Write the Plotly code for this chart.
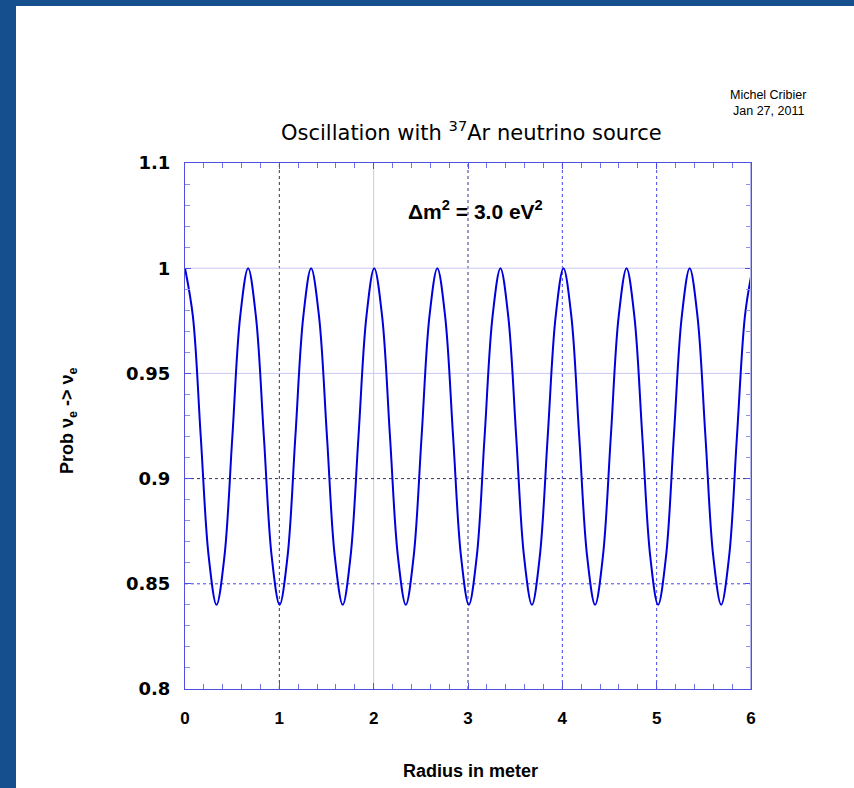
import plotly.graph_objects as go

# Radius (m) and survival probability
radius = [0.000, 0.084, 0.167, 0.251, 0.334, 0.418, 0.502, 0.585,
          0.669, 0.752, 0.836, 0.919, 1.003, 1.087, 1.170, 1.254,
          1.337, 1.421, 1.505, 1.588, 1.672, 1.755, 1.839, 1.923,
          2.006, 2.090, 2.173, 2.257, 2.341, 2.424, 2.508, 2.591,
          2.675, 2.758, 2.842, 2.926, 3.009, 3.093, 3.176, 3.260,
          3.344, 3.427, 3.511, 3.594, 3.678, 3.761, 3.845, 3.929,
          4.012, 4.096, 4.179, 4.263, 4.347, 4.430, 4.514, 4.597,
          4.681, 4.764, 4.848, 4.932, 5.015, 5.099, 5.182, 5.266,
          5.350, 5.433, 5.517, 5.600, 5.684, 5.768, 5.851, 5.935,
          6.000]
prob = [1.000, 0.977, 0.920, 0.863, 0.840, 0.863, 0.920, 0.977,
        1.000, 0.977, 0.920, 0.863, 0.840, 0.863, 0.920, 0.977,
        1.000, 0.977, 0.920, 0.863, 0.840, 0.863, 0.920, 0.977,
        1.000, 0.977, 0.920, 0.863, 0.840, 0.863, 0.920, 0.977,
        1.000, 0.977, 0.920, 0.863, 0.840, 0.863, 0.920, 0.977,
        1.000, 0.977, 0.920, 0.863, 0.840, 0.863, 0.920, 0.977,
        1.000, 0.977, 0.920, 0.863, 0.840, 0.863, 0.920, 0.977,
        1.000, 0.977, 0.920, 0.863, 0.840, 0.863, 0.920, 0.977,
        1.000, 0.977, 0.920, 0.863, 0.840, 0.863, 0.920, 0.977,
        0.996]

x_ticks = [0, 1, 2, 3, 4, 5, 6]
y_ticks = [0.8, 0.85, 0.9, 0.95, 1.0, 1.05]
y_tick_text = ["0.8", "0.85", "0.9", "0.95", "1", "1.1"]

# grid lines (position, style)
x_grid = [(1, "#333366", "dot"), (2, "#c8c8f4", "solid"), (3, "#333388", "dot"),
          (4, "#4444ee", "dot"), (5, "#4444ee", "dot")]
y_grid = [(1.0, "#c8c8f4", "solid"), (0.95, "#c8c8f4", "solid"),
          (0.9, "#333366", "dot"), (0.85, "#4444ee", "dot")]

fig = go.Figure()
fig.add_trace(go.Scatter(x=radius, y=prob, mode="lines",
                         line=dict(color="#0000dd", width=2, shape="spline"),
                         showlegend=False, hoverinfo="skip"))

shapes = []
# page background: white sheet on blue
shapes.append(dict(type="rect", xref="paper", yref="paper",
                   x0=(16 - 185) / 566, x1=(860 - 185) / 566,
                   y0=(689 - 800) / 526, y1=(689 - 6) / 526,
                   fillcolor="white", line=dict(width=0), layer="below"))
for xv, col, dash in x_grid:
    shapes.append(dict(type="line", xref="x", yref="y", x0=xv, x1=xv, y0=0.8, y1=1.05,
                       line=dict(color=col, width=1, dash=dash), layer="below"))
for yv, col, dash in y_grid:
    shapes.append(dict(type="line", xref="x", yref="y", x0=0, x1=6, y0=yv, y1=yv,
                       line=dict(color=col, width=1, dash=dash), layer="below"))
# light right edge
shapes.append(dict(type="line", xref="x", yref="y", x0=6, x1=6, y0=0.8, y1=1.05,
                   line=dict(color="#b4b4f0", width=2), layer="above"))

axis_col = "#5050e0"
fig.update_layout(
    width=854, height=788,
    margin=dict(l=185, r=103, t=163, b=99),
    paper_bgcolor="#164f8e",
    plot_bgcolor="white",
    shapes=shapes,
    xaxis=dict(range=[0, 6], tickvals=x_ticks, showgrid=False, zeroline=False,
               showline=True, linecolor=axis_col, linewidth=1, mirror="ticks",
               ticks="inside", ticklen=6, tickcolor=axis_col,
               minor=dict(dtick=0.2, ticks="inside", ticklen=5, tickcolor="#7070e8",
                          showgrid=False),
               ticklabelstandoff=14,
               tickfont=dict(family="Liberation Sans", size=17, color="black", weight="bold")),
    yaxis=dict(range=[0.8, 1.05], tickvals=y_ticks, ticktext=y_tick_text,
               showgrid=False, zeroline=False,
               showline=True, linecolor=axis_col, linewidth=1, mirror="ticks",
               ticks="inside", ticklen=6, tickcolor=axis_col,
               minor=dict(dtick=0.01, ticks="inside", ticklen=5, tickcolor="#9090ec",
                          showgrid=False),
               ticklabelstandoff=10,
               tickfont=dict(family="DejaVu Sans", size=18, color="black", weight="bold")),
    annotations=[
        dict(text="Oscillation with <sup>37</sup>Ar neutrino source",
             xref="paper", yref="paper", x=(471 - 185) / 566, y=(689 - 131) / 526,
             xanchor="center", yanchor="middle", showarrow=False,
             font=dict(family="DejaVu Sans", size=21, color="black")),
        dict(text="\u0394m<sup>2</sup> = 3.0 eV<sup>2</sup>",
             xref="paper", yref="paper", x=(475 - 185) / 566, y=(689 - 210) / 526,
             xanchor="center", yanchor="middle", showarrow=False,
             font=dict(family="Liberation Sans", size=21, color="black", weight="bold")),
        dict(text="Michel Cribier",
             xref="paper", yref="paper", x=(768 - 185) / 566, y=(689 - 95) / 526,
             xanchor="center", yanchor="middle", showarrow=False, borderpad=0,
             font=dict(family="Liberation Sans", size=12.5, color="black")),
        dict(text="Jan 27, 2011",
             xref="paper", yref="paper", x=(768 - 185) / 566, y=(689 - 111) / 526,
             xanchor="center", yanchor="middle", showarrow=False, borderpad=0,
             font=dict(family="Liberation Sans", size=12.5, color="black")),
        dict(text="Radius in meter",
             xref="paper", yref="paper", x=(470 - 185) / 566, y=(689 - 771) / 526,
             xanchor="center", yanchor="middle", showarrow=False,
             font=dict(family="Liberation Sans", size=18, color="black", weight="bold")),
        dict(text="Prob \u03bd<sub>e</sub> -> \u03bd<sub>e</sub>",
             xref="paper", yref="paper", x=(68 - 185) / 566, y=(689 - 421) / 526,
             xanchor="center", yanchor="middle", showarrow=False, textangle=-90,
             font=dict(family="Liberation Sans", size=18, color="black", weight="bold")),
    ],
)

fig.write_html("out.html")
